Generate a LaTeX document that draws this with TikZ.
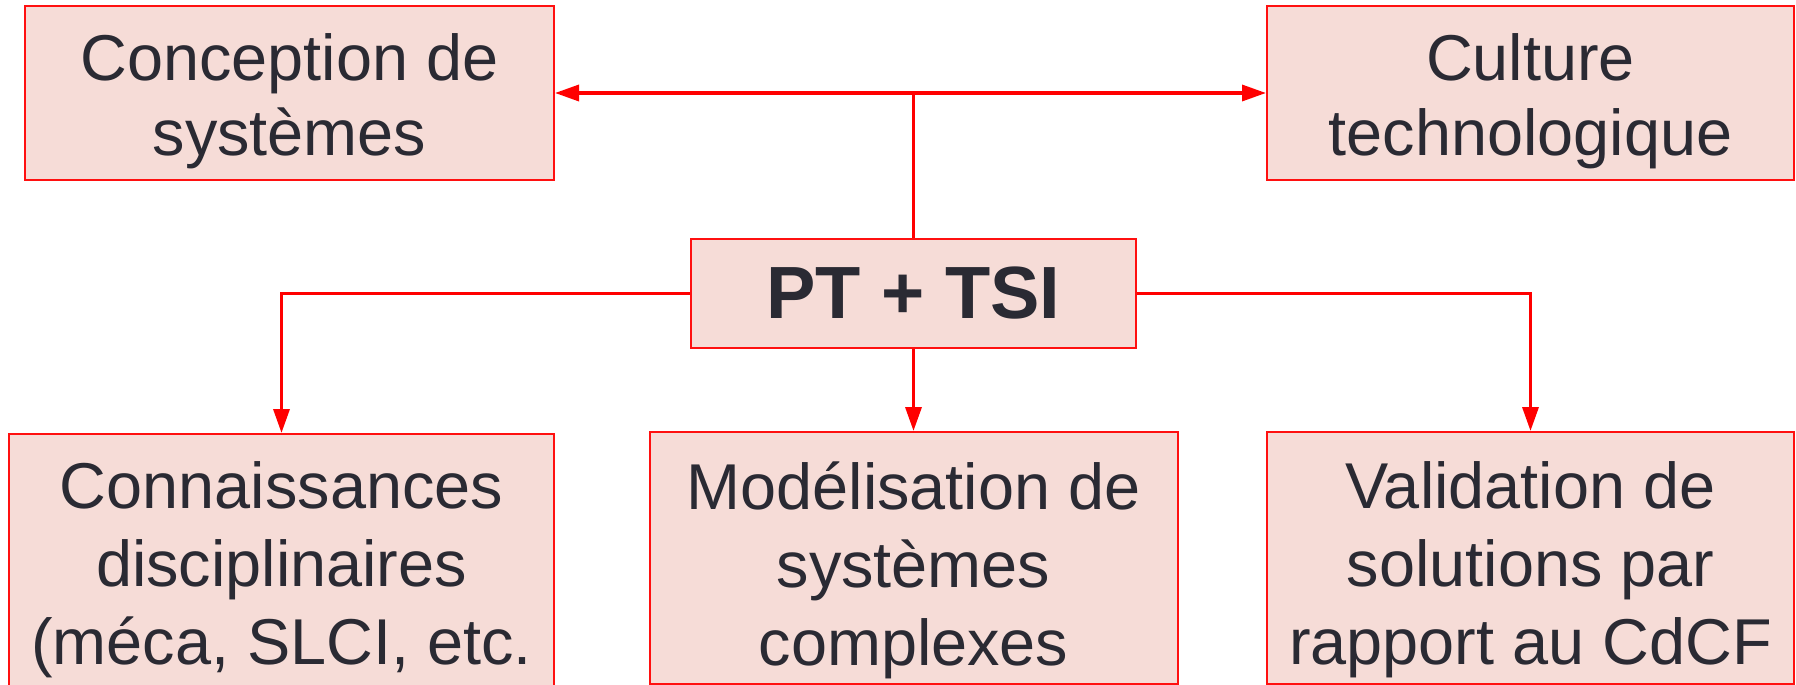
\documentclass[tikz,border=0pt]{standalone}
\usepackage{fontspec}
\setmainfont{Liberation Sans}
\usetikzlibrary{arrows.meta}
\definecolor{boxfill}{HTML}{F6DCD7}
\definecolor{boxline}{HTML}{FF1010}
\definecolor{ink}{HTML}{2A2A33}
\definecolor{linkred}{HTML}{FF0000}
\begin{document}
\begin{tikzpicture}[x=0.5pt,y=-0.5pt,
  box/.style={draw=boxline, fill=boxfill, line width=1pt, inner sep=0pt},
  lbl/.style={text=ink, align=center, inner sep=0pt,
    font=\fontsize{32.4pt}{39pt}\selectfont},
  toplbl/.style={lbl, font=\fontsize{32.4pt}{37.5pt}\selectfont},
  link/.style={draw=linkred, line width=1.7pt},
  tip/.style={-{Triangle[length=12pt,width=8pt]}}]
\useasboundingbox (0,0) rectangle (1796,685);
\fill[white] (0,0) rectangle (1796,685);

% top row
\node[box, minimum width=264.5pt, minimum height=87pt] (concep) at (289.5,93) {};
\node[toplbl] (concepT) at (289.5,101) {Conception de\\systèmes};
\node[box, minimum width=263.5pt, minimum height=87pt] (cult) at (1530.5,93) {};
\node[toplbl] (cultT) at (1530.5,101) {Culture\\technologique};

% central box
\node[box, minimum width=222.5pt, minimum height=54.5pt] (pt) at (913.5,293.5) {};
\node[lbl, font=\fontsize{37pt}{40pt}\selectfont\bfseries] (ptT) at (913.5,293.5)
  {PT + TSI};

% bottom row
\node[box, anchor=north, minimum width=272.5pt, minimum height=150pt] (conn) at (281.5,433) {};
\node[lbl] (connT) at (281.5,570) {Connaissances\\disciplinaires\\(méca, SLCI, etc.};
\node[box, minimum width=264pt, minimum height=126pt] (model) at (913.5,558) {};
\node[lbl] (modelT) at (913.5,570) {Modélisation de\\systèmes\\complexes};
\node[box, minimum width=263.5pt, minimum height=126pt] (valid) at (1530.5,558) {};
\node[lbl] (validT) at (1530.5,570) {Validation de\\solutions par\\rapport au CdCF};

% connectors
\coordinate (hub) at (pt.north |- concep.east);
\draw[link] (pt.north) -- (hub);
\draw[link, tip] (hub) -- (concep.east);
\draw[link, tip] (hub) -- (cult.west);
\draw[link, tip] (pt.west) -| (conn.north);
\draw[link, tip] (pt.east) -| (valid.north);
\draw[link, tip] (pt.south) -- (model.north);
\end{tikzpicture}
\end{document}
